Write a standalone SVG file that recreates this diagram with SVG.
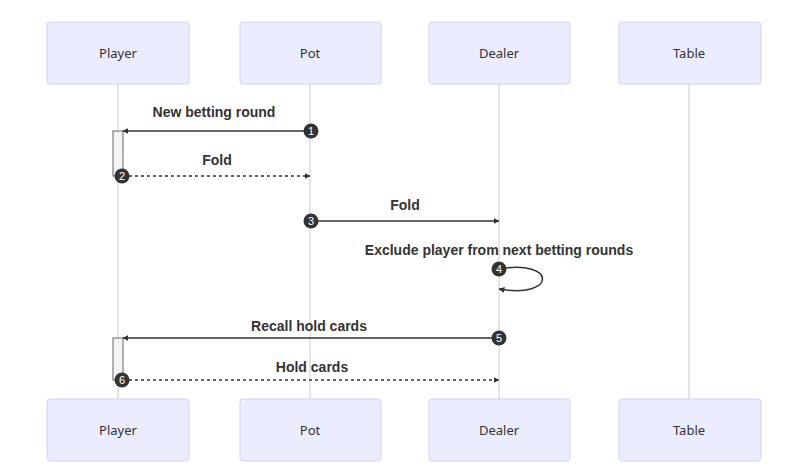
<svg xmlns="http://www.w3.org/2000/svg" width="808" height="475" viewBox="0 0 808 475">
<style>
.actor{fill:#ECECFF;stroke:#D5D0F5;stroke-width:1}
.atext{font-family:"Noto Sans","Liberation Sans",sans-serif;font-size:13px;fill:#333;text-anchor:middle}
.life{stroke:#ccc;stroke-width:1}
.msg{stroke:#333;stroke-width:1.5;fill:none}
.dot{stroke-dasharray:3,3}
.mtext{font-family:"Liberation Sans",Arial,sans-serif;font-size:14px;font-weight:bold;fill:#333;text-anchor:middle}
.act{fill:#f4f4f4;stroke:#666;stroke-width:1}
.num{fill:#333}
.ntext{font-family:"Liberation Sans",Arial,sans-serif;font-size:11px;fill:#fff;text-anchor:middle}
</style>
<defs>
<marker id="arrow" viewBox="0 0 10 10" refX="9" refY="5" markerWidth="6" markerHeight="6" orient="auto" markerUnits="userSpaceOnUse">
<path d="M0,0 L10,5 L0,10 z" fill="#333"/>
</marker>
</defs>
<g id="lifelines">
<line class="life" x1="118" y1="84" x2="118" y2="399"/>
<line class="life" x1="310" y1="84" x2="310" y2="399"/>
<line class="life" x1="499" y1="84" x2="499" y2="399"/>
<line class="life" x1="689" y1="84" x2="689" y2="399"/>
</g>
<g id="actor-player-top"><rect class="actor" x="47" y="22" width="142" height="62" rx="3"/><text class="atext" x="118" y="58">Player</text></g>
<g id="actor-pot-top"><rect class="actor" x="240" y="22" width="141" height="62" rx="3"/><text class="atext" x="310" y="58">Pot</text></g>
<g id="actor-dealer-top"><rect class="actor" x="429" y="22" width="141" height="62" rx="3"/><text class="atext" x="499" y="58">Dealer</text></g>
<g id="actor-table-top"><rect class="actor" x="619" y="22" width="142" height="62" rx="3"/><text class="atext" x="689" y="58">Table</text></g>
<g id="actor-player-bottom"><rect class="actor" x="47" y="399" width="142" height="62" rx="3"/><text class="atext" x="118" y="435">Player</text></g>
<g id="actor-pot-bottom"><rect class="actor" x="240" y="399" width="141" height="62" rx="3"/><text class="atext" x="310" y="435">Pot</text></g>
<g id="actor-dealer-bottom"><rect class="actor" x="429" y="399" width="141" height="62" rx="3"/><text class="atext" x="499" y="435">Dealer</text></g>
<g id="actor-table-bottom"><rect class="actor" x="619" y="399" width="142" height="62" rx="3"/><text class="atext" x="689" y="435">Table</text></g>
<g id="activations">
<rect class="act" x="113" y="131" width="10" height="45"/>
<rect class="act" x="113" y="338" width="10" height="42"/>
</g>
<g id="connectors">
<text class="mtext" x="214" y="117">New betting round</text>
<line class="msg" x1="310" y1="131" x2="123" y2="131" marker-end="url(#arrow)"/>
<text class="mtext" x="217" y="165">Fold</text>
<line class="msg dot" x1="123" y1="176" x2="310" y2="176" marker-end="url(#arrow)"/>
<text class="mtext" x="405" y="210">Fold</text>
<line class="msg" x1="310" y1="221" x2="499" y2="221" marker-end="url(#arrow)"/>
<text class="mtext" x="499" y="255">Exclude player from next betting rounds</text>
<path class="msg" d="M499,269 C557,259 557,299 499,289" marker-end="url(#arrow)"/>
<text class="mtext" x="309" y="331">Recall hold cards</text>
<line class="msg" x1="499" y1="338" x2="123" y2="338" marker-end="url(#arrow)"/>
<text class="mtext" x="312" y="372">Hold cards</text>
<line class="msg dot" x1="123" y1="380" x2="499" y2="380" marker-end="url(#arrow)"/>
</g>
<g id="sequence-numbers">
<circle class="num" cx="311" cy="131" r="7.5"/><text class="ntext" x="311" y="135">1</text>
<circle class="num" cx="122" cy="176" r="7.5"/><text class="ntext" x="122" y="180">2</text>
<circle class="num" cx="311" cy="221" r="7.5"/><text class="ntext" x="311" y="225">3</text>
<circle class="num" cx="499" cy="269" r="7.5"/><text class="ntext" x="499" y="273">4</text>
<circle class="num" cx="499" cy="338" r="7.5"/><text class="ntext" x="499" y="342">5</text>
<circle class="num" cx="122" cy="380" r="7.5"/><text class="ntext" x="122" y="384">6</text>
</g>
</svg>
